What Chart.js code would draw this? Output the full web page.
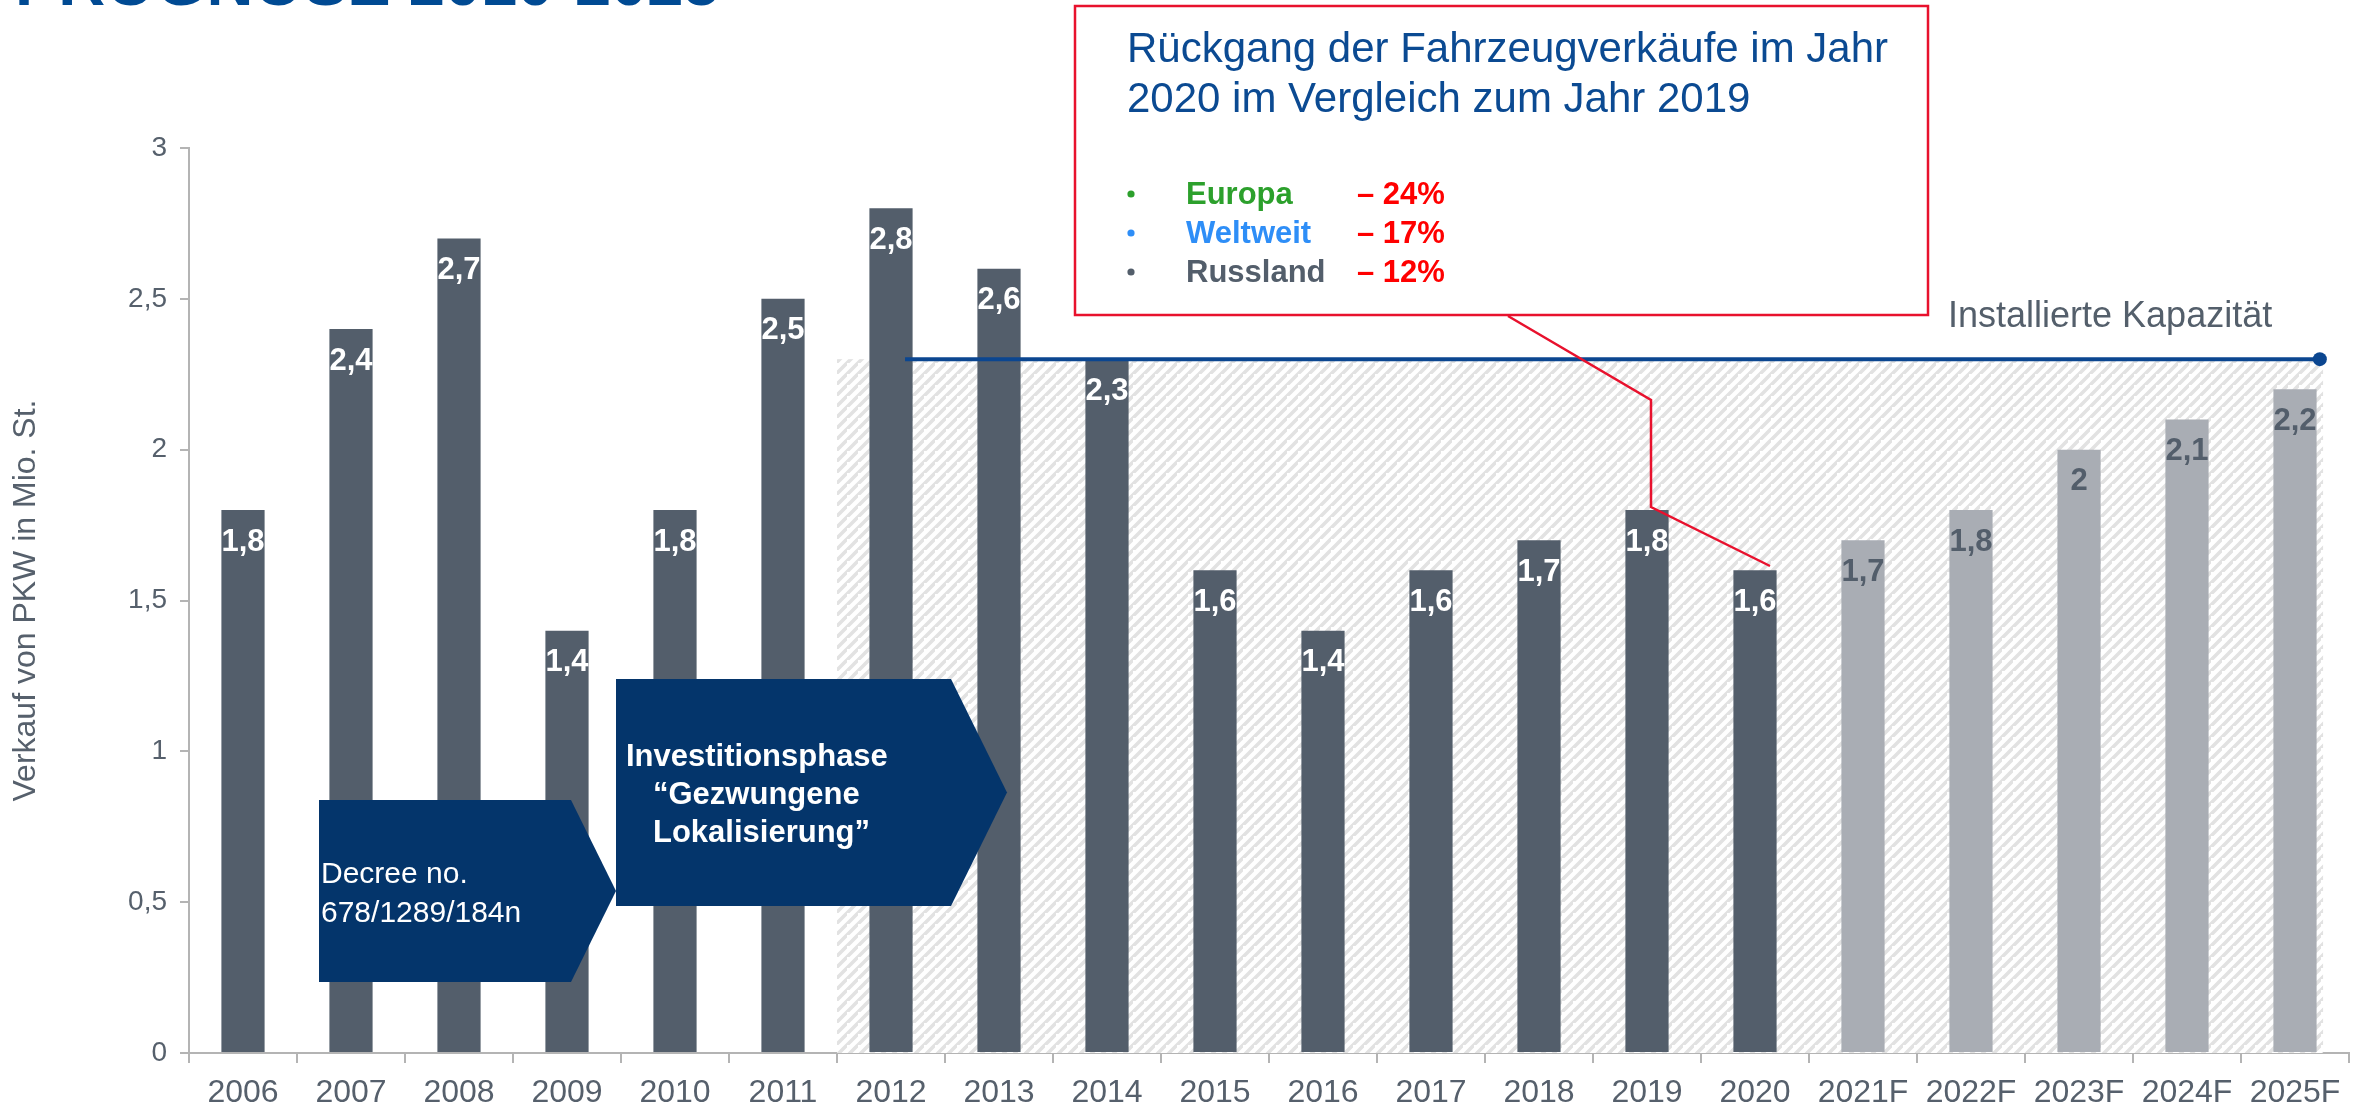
<!DOCTYPE html>
<html><head><meta charset="utf-8">
<script src="https://cdn.jsdelivr.net/npm/chart.js@4.4.1/dist/chart.umd.min.js"></script>
<style>html,body{margin:0;padding:0;background:#fff;overflow:hidden}canvas{display:block}</style>
</head><body>
<canvas id="c" width="2364" height="1108"></canvas>
<script>
// ---- data ----
const years = ['2006','2007','2008','2009','2010','2011','2012','2013','2014','2015','2016','2017','2018','2019','2020','2021F','2022F','2023F','2024F','2025F'];
const sales = [1.8,2.4,2.7,1.4,1.8,2.5,2.8,2.6,2.3,1.6,1.4,1.6,1.7,1.8,1.6,1.7,1.8,2.0,2.1,2.2];
const yTickValues = [0,0.5,1,1.5,2,2.5,3];
const capacityValue = 2.3;
const capacitySpan = [6.13, 19.23];   // in category index units
const hatchSpan = [5.5, 19.26];       // in category index units
const declineRegions = ['Europa','Weltweit','Russland'];
const declineValues = ['– 24%','– 17%','– 12%'];
const declineColors = ['#2ca02c','#2e8ef7','#535e6b'];

const FONT = '"Liberation Sans", Arial, Helvetica, sans-serif';
const DARK = '#535e6b', LIGHT = '#a9adb4', NAVY = '#04356b', BLUE = '#0b4a92', RED = '#e8112d', AXIS = '#b4b4b4', TXT = '#56606c';
const fmt = v => String(v).replace('.', ',');
const isForecast = years.map(y => y.endsWith('F'));

function makePattern(){
  const n = 11;
  const p = document.createElement('canvas'); p.width = n; p.height = n;
  const g = p.getContext('2d');
  g.fillStyle = '#ffffff'; g.fillRect(0,0,n,n);
  g.strokeStyle = '#e2e2e2'; g.lineWidth = 3.6;
  g.beginPath();
  g.moveTo(-3,n+3); g.lineTo(n+3,-3);
  g.moveTo(-n-3,3); g.lineTo(3,-n-3);
  g.moveTo(-3,2*n+3); g.lineTo(2*n+3,-3);
  g.stroke();
  return p;
}

function text(ctx, s, x, y, font, color, align, baseline){
  ctx.font = font; ctx.fillStyle = color; ctx.textAlign = align || 'left'; ctx.textBaseline = baseline || 'alphabetic';
  ctx.fillText(s, x, y);
}
function pentagon(ctx, x0, y0, x1, xt, y1, color){
  ctx.beginPath();
  ctx.moveTo(x0,y0); ctx.lineTo(x1,y0); ctx.lineTo(xt,(y0+y1)/2); ctx.lineTo(x1,y1); ctx.lineTo(x0,y1); ctx.closePath();
  ctx.fillStyle = color; ctx.fill();
}

const hatchPlugin = {
  id: 'hatch',
  beforeDatasetsDraw(chart){
    const ctx = chart.ctx, xs = chart.scales.xl, ys = chart.scales.y;
    const pat = ctx.createPattern(makePattern(), 'repeat');
    const x0 = xs.getPixelForValue(hatchSpan[0]), x1 = xs.getPixelForValue(hatchSpan[1]);
    const yt = ys.getPixelForValue(capacityValue), yb = ys.getPixelForValue(0);
    ctx.save(); ctx.fillStyle = pat; ctx.fillRect(x0, yt, x1 - x0, yb - yt); ctx.restore();
  }
};

const overlayPlugin = {
  id: 'overlay',
  afterDatasetsDraw(chart){
    const ctx = chart.ctx;
    ctx.save();
    // bar value labels
    const meta = chart.getDatasetMeta(1);
    meta.data.forEach((el, i) => {
      text(ctx, fmt(sales[i]), el.x, el.y + 32, 'bold 31px ' + FONT, isForecast[i] ? DARK : '#ffffff', 'center', 'middle');
    });
    // arrows
    pentagon(ctx, 319, 800, 571, 616, 982, NAVY);
    pentagon(ctx, 616, 679, 951, 1007, 906, NAVY);
    text(ctx, 'Decree no.', 321, 883, '30px ' + FONT, '#ffffff');
    text(ctx, '678/1289/184n', 321, 922, '30px ' + FONT, '#ffffff');
    text(ctx, 'Investitionsphase', 626, 766, 'bold 31px ' + FONT, '#ffffff');
    text(ctx, '\u201CGezwungene', 653, 804, 'bold 31px ' + FONT, '#ffffff');
    text(ctx, 'Lokalisierung\u201D', 653, 842, 'bold 31px ' + FONT, '#ffffff');
    // callout box
    ctx.fillStyle = '#ffffff'; ctx.fillRect(1075, 6, 853, 309);
    ctx.strokeStyle = RED; ctx.lineWidth = 2.5; ctx.strokeRect(1075, 6, 853, 309);
    text(ctx, 'Rückgang der Fahrzeugverkäufe im Jahr', 1127, 62, '42px ' + FONT, BLUE);
    text(ctx, '2020 im Vergleich zum Jahr 2019', 1127, 112, '42px ' + FONT, BLUE);
    const rows = [204, 243, 282];
    declineRegions.forEach((r, i) => {
      ctx.beginPath(); ctx.arc(1131, rows[i] - 10, 3.6, 0, Math.PI*2); ctx.fillStyle = declineColors[i]; ctx.fill();
      text(ctx, r, 1186, rows[i], 'bold 31px ' + FONT, declineColors[i]);
      text(ctx, declineValues[i], 1357, rows[i], 'bold 31px ' + FONT, '#ff0000');
    });
    // connector
    ctx.beginPath();
    ctx.moveTo(1508, 316); ctx.lineTo(1651, 400); ctx.lineTo(1651, 507); ctx.lineTo(1770, 566);
    ctx.strokeStyle = RED; ctx.lineWidth = 2.5; ctx.stroke();
    // capacity label
    text(ctx, 'Installierte Kapazität', 1948, 327, '36px ' + FONT, '#545f6b');
    // page title (cut off at top)
    text(ctx, 'PROGNOSE 2010-2025', 15, 5, 'bold 65px ' + FONT, '#004a93');
    ctx.restore();
  }
};

new Chart(document.getElementById('c'), {
  type: 'bar',
  data: {
    labels: years,
    datasets: [
      {
        type: 'line', xAxisID: 'xl', yAxisID: 'y', order: 0,
        data: capacitySpan.map(x => ({x: x, y: capacityValue})),
        borderColor: '#0b4690', borderWidth: 4, fill: false,
        pointRadius: [0, 7], pointBackgroundColor: '#0b4690', pointBorderWidth: 0
      },
      {
        type: 'bar', xAxisID: 'x', yAxisID: 'y', order: 1, grouped: false,
        data: sales,
        backgroundColor: isForecast.map(f => f ? LIGHT : DARK),
        barPercentage: 0.4, categoryPercentage: 1.0
      }
    ]
  },
  options: {
    responsive: false, animation: false, devicePixelRatio: 1,
    layout: { padding: { top: 148, right: 15, left: 0, bottom: 0 } },
    plugins: { legend: { display: false }, tooltip: { enabled: false } },
    scales: {
      x: {
        type: 'category', offset: true,
        grid: { drawOnChartArea: false, drawTicks: true, tickLength: 10, color: AXIS, lineWidth: 2, offset: true },
        border: { display: true, color: AXIS, width: 2 },
        ticks: { font: { family: FONT, size: 32 }, color: TXT, padding: 11, maxRotation: 0, autoSkip: false },
        afterFit(s){ s.height = 55; }
      },
      xl: { type: 'linear', display: false, offset: false, min: -0.5, max: years.length - 0.5, grid: { offset: false } },
      y: {
        min: 0, max: 3,
        afterBuildTicks(s){ s.ticks = yTickValues.map(v => ({value: v})); },
        grid: { drawOnChartArea: false, drawTicks: true, tickLength: 9, color: AXIS, lineWidth: 2 },
        border: { display: true, color: AXIS, width: 2 },
        ticks: { font: { family: FONT, size: 28 }, color: TXT, padding: 13, callback: v => fmt(v) },
        title: { display: true, text: 'Verkauf von PKW in Mio. St.', font: { family: FONT, size: 32 }, color: TXT, padding: { top: 7, bottom: 0 } },
        afterFit(s){ s.width = 189; }
      }
    }
  },
  plugins: [hatchPlugin, overlayPlugin]
});
</script>
</body></html>
